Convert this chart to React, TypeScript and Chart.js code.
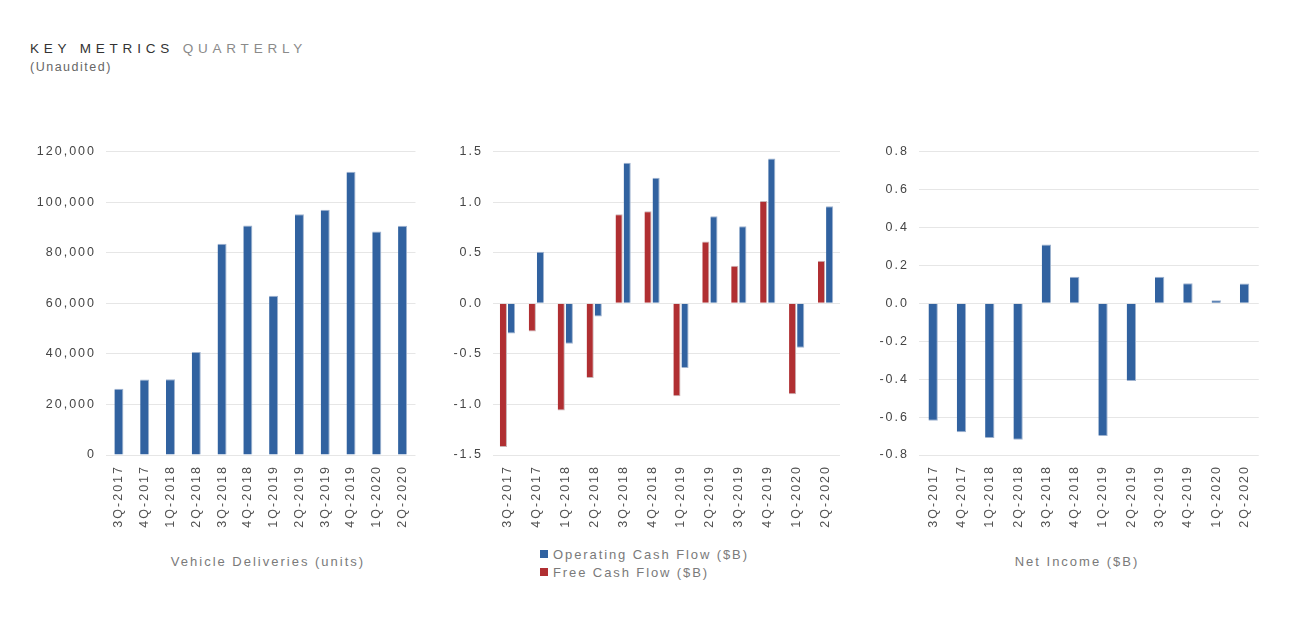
import React, { useEffect, useRef } from "react";
import { Chart, registerables } from "chart.js";

Chart.register(...registerables);

const FONT = "'Liberation Sans', Arial, Helvetica, sans-serif";

const categories = [
  "3Q-2017", "4Q-2017", "1Q-2018", "2Q-2018", "3Q-2018", "4Q-2018",
  "1Q-2019", "2Q-2019", "3Q-2019", "4Q-2019", "1Q-2020", "2Q-2020",
];

const vehicleDeliveries = [26150, 29870, 29980, 40740, 83500, 90700, 63000, 95200, 97000, 112000, 88400, 90650];
const operatingCashFlow = [-0.30, 0.51, -0.40, -0.13, 1.39, 1.24, -0.64, 0.86, 0.76, 1.43, -0.44, 0.96];
const freeCashFlow = [-1.42, -0.28, -1.06, -0.74, 0.88, 0.91, -0.92, 0.61, 0.37, 1.01, -0.90, 0.42];
const netIncome = [-0.62, -0.68, -0.71, -0.72, 0.31, 0.14, -0.70, -0.41, 0.14, 0.105, 0.016, 0.104];

const deliveriesAxis = { min: 0, max: 120000, step: 20000 };
const cashFlowAxis = { min: -1.5, max: 1.5, step: 0.5 };
const netIncomeAxis = { min: -0.8, max: 0.8, step: 0.2 };

const BLUE = "#3162a0";
const BLUE_EDGE = "#9fb3cf";
const RED = "#b02f32";
const RED_EDGE = "#c9b4b6";

const spacingPlugin = {
  id: "letterSpacing",
  beforeUpdate(chart: any) {
    (chart.ctx as any).letterSpacing = "2px";
  },
  beforeDraw(chart: any) {
    (chart.ctx as any).letterSpacing = "2px";
  },
};

type Cfg = {
  left: number;
  top: number;
  width: number;
  height: number;
  yWidth: number;
  datasets: any[];
  axis: { min: number; max: number; step: number };
  fmt: (v: number) => string;
};

function BarChart({ cfg }: { cfg: Cfg }) {
  const ref = useRef<HTMLCanvasElement>(null);
  useEffect(() => {
    if (!ref.current) return;
    const chart = new Chart(ref.current, {
      type: "bar",
      data: { labels: categories, datasets: cfg.datasets },
      options: {
        responsive: false,
        animation: false,
        devicePixelRatio: 1,
        layout: { padding: { top: 0, right: 10, bottom: 0, left: 0 } },
        plugins: { legend: { display: false }, tooltip: { enabled: false } },
        scales: {
          x: {
            grid: { display: false, drawTicks: false },
            border: { display: false },
            ticks: {
              autoSkip: false,
              maxRotation: 90,
              minRotation: 90,
              padding: 10,
              color: "#505050",
              font: { family: FONT, size: 12.5 },
            },
            afterFit: (s: any) => {
              s.height = 80;
            },
          },
          y: {
            min: cfg.axis.min,
            max: cfg.axis.max,
            grid: { color: "#e6e6e6", drawTicks: false, lineWidth: 1 },
            border: { display: false },
            ticks: {
              stepSize: cfg.axis.step,
              padding: 10,
              color: "#454545",
              font: { family: FONT, size: 12.5 },
              callback: (v: any) => cfg.fmt(Number(v)),
            },
            afterFit: (s: any) => {
              s.width = cfg.yWidth;
            },
          },
        },
      },
      plugins: [spacingPlugin],
    } as any);
    return () => chart.destroy();
  }, []);
  return (
    <canvas
      ref={ref}
      width={cfg.width}
      height={cfg.height}
      style={{ position: "absolute", left: cfg.left, top: cfg.top, width: cfg.width, height: cfg.height }}
    />
  );
}

const blueBars = (data: number[], label: string, pct: number, barPct = 1) => ({
  label,
  data,
  backgroundColor: BLUE,
  borderColor: BLUE_EDGE,
  borderWidth: { left: 0, right: 1, top: 1, bottom: 1 },
  borderSkipped: "start",
  categoryPercentage: pct,
  barPercentage: barPct,
});

const redBars = (data: number[], label: string, pct: number, barPct = 1) => ({
  label,
  data,
  backgroundColor: RED,
  borderColor: RED_EDGE,
  borderWidth: { left: 0, right: 1, top: 1, bottom: 1 },
  borderSkipped: "start",
  categoryPercentage: pct,
  barPercentage: barPct,
});

const fmtInt = (v: number) => Math.round(v).toLocaleString("en-US");
const fmt1 = (v: number) => (Math.abs(v) < 1e-9 ? 0 : v).toFixed(1);

const axisTitle: React.CSSProperties = {
  position: "absolute",
  width: 300,
  textAlign: "center",
  fontFamily: FONT,
  fontSize: 13,
  lineHeight: "13px",
  letterSpacing: "2px",
  color: "#7a7a7a",
  whiteSpace: "nowrap",
};

const legendRow: React.CSSProperties = {
  display: "flex",
  alignItems: "center",
  height: 18,
  fontFamily: FONT,
  fontSize: 13,
  letterSpacing: "1.9px",
  color: "#7a7a7a",
  whiteSpace: "nowrap",
};

export default function App() {
  const chart1: Cfg = {
    left: 20, top: 134, width: 408, height: 401, yWidth: 86,
    datasets: [blueBars(vehicleDeliveries, "Vehicle Deliveries (units)", 0.35)],
    axis: deliveriesAxis, fmt: fmtInt,
  };
  const chart2: Cfg = {
    left: 430, top: 134, width: 421, height: 401, yWidth: 63,
    datasets: [
      redBars(freeCashFlow, "Free Cash Flow ($B)", 0.56, 0.88),
      blueBars(operatingCashFlow, "Operating Cash Flow ($B)", 0.56, 0.88),
    ],
    axis: cashFlowAxis, fmt: fmt1,
  };
  const chart3: Cfg = {
    left: 860, top: 134, width: 410, height: 401, yWidth: 59,
    datasets: [blueBars(netIncome, "Net Income ($B)", 0.33)],
    axis: netIncomeAxis, fmt: fmt1,
  };

  return (
    <div style={{ position: "absolute", left: 0, top: 0, width: 1293, height: 628, background: "#fff", overflow: "hidden" }}>
      <div
        style={{
          position: "absolute", left: 30, top: 42, fontFamily: FONT, fontSize: 13.5,
          lineHeight: "14px", letterSpacing: "4.8px", whiteSpace: "nowrap",
        }}
      >
        <span style={{ color: "#333" }}>KEY METRICS </span>
        <span style={{ color: "#8a8a8a" }}>QUARTERLY</span>
      </div>
      <div
        style={{
          position: "absolute", left: 30, top: 61, fontFamily: FONT, fontSize: 12.5,
          lineHeight: "12.5px", letterSpacing: "1.5px", color: "#666", whiteSpace: "nowrap",
        }}
      >
        (Unaudited)
      </div>

      <BarChart cfg={chart1} />
      <BarChart cfg={chart2} />
      <BarChart cfg={chart3} />

      <div style={{ ...axisTitle, left: 268 - 150, top: 555 }}>Vehicle Deliveries (units)</div>
      <div style={{ ...axisTitle, left: 1077 - 150, top: 555 }}>Net Income ($B)</div>

      <div style={{ position: "absolute", left: 540, top: 545 }}>
        {[
          { label: "Operating Cash Flow ($B)", color: BLUE },
          { label: "Free Cash Flow ($B)", color: RED },
        ].map((item) => (
          <div key={item.label} style={legendRow}>
            <span style={{ display: "inline-block", width: 8, height: 8, background: item.color, marginRight: 5 }} />
            <span>{item.label}</span>
          </div>
        ))}
      </div>
    </div>
  );
}
